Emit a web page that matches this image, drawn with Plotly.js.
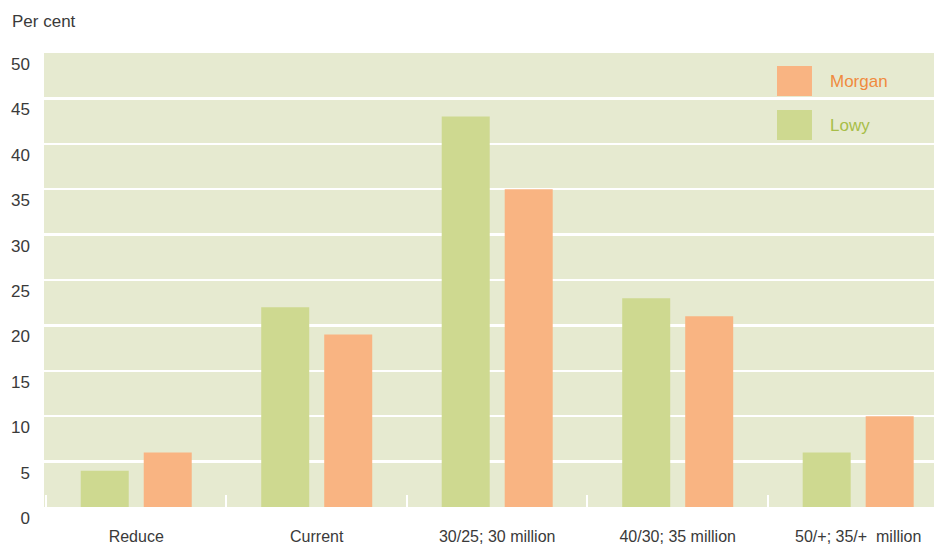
<!DOCTYPE html>
<html>
<head>
<meta charset="utf-8">
<script src="https://cdn.plot.ly/plotly-3.0.1.min.js"></script>
<style>html,body{margin:0;padding:0;background:#fff;}#chart{width:934px;height:547px;}</style>
</head>
<body>
<div id="chart"></div>
<script>
const categories = ["Reduce", "Current", "30/25; 30 million", "40/30; 35 million", "50/+; 35/+  million"];
const lowyValues = [4, 22, 43, 23, 6];
const morganValues = [6, 19, 35, 21, 10];
const yTicks = [0, 5, 10, 15, 20, 25, 30, 35, 40, 45, 50];

const green = "#CED990";
const orange = "#F9B482";
const fontFam = "'Liberation Sans Narrow', 'Arial Narrow', 'Liberation Sans', Arial, sans-serif";
const textColor = "#3a3a3a";

const traces = [
  {type: "bar", name: "Lowy", x: categories, y: lowyValues, marker: {color: green}, hoverinfo: "x+y"},
  {type: "bar", name: "Morgan", x: categories, y: morganValues, marker: {color: orange}, hoverinfo: "x+y"}
];

const layout = {
  width: 934, height: 547,
  margin: {l: 44, r: 0, t: 53, b: 40},
  paper_bgcolor: "#ffffff",
  plot_bgcolor: "#E6EAD0",
  barmode: "group",
  bargap: 0.302,
  bargroupgap: 0.238,
  showlegend: false,
  font: {family: fontFam, size: 16, color: textColor},
  xaxis: {
    type: "category",
    range: [-0.511, 4.42],
    tickson: "boundaries",
    ticks: "inside",
    ticklen: 12,
    tickwidth: 2,
    tickcolor: "#ffffff",
    showgrid: false,
    zeroline: false,
    showline: false,
    ticklabelstandoff: 18,
    tickfont: {family: fontFam, size: 16, color: textColor}
  },
  yaxis: {
    range: [0, 50],
    tickvals: yTicks,
    ticktext: yTicks.map(String),
    showgrid: true,
    gridcolor: "#ffffff",
    gridwidth: 2.5,
    zeroline: false,
    showline: false,
    ticks: "",
    ticklabelstandoff: 13,
    ticklabelshift: 11,
    tickfont: {family: fontFam, size: 17, color: textColor}
  },
  shapes: [
    {type: "rect", xref: "paper", yref: "paper", x0: 0.8236, x1: 0.8629, y0: 0.9053, y1: 0.9714, fillcolor: orange, line: {width: 0}},
    {type: "rect", xref: "paper", yref: "paper", x0: 0.8236, x1: 0.8629, y0: 0.8084, y1: 0.8744, fillcolor: green, line: {width: 0}}
  ],
  annotations: [
    {text: "Per cent", xref: "paper", yref: "paper", x: -0.0382, y: 1.07, xanchor: "left", yanchor: "middle", showarrow: false, font: {family: fontFam, size: 17, color: textColor}},
    {text: "Morgan", xref: "paper", yref: "paper", x: 0.8805, y: 0.9383, xanchor: "left", yanchor: "middle", showarrow: false, font: {family: fontFam, size: 17, color: "#F08A3E"}},
    {text: "Lowy", xref: "paper", yref: "paper", x: 0.8805, y: 0.8414, xanchor: "left", yanchor: "middle", showarrow: false, font: {family: fontFam, size: 17, color: "#A8BE48"}}
  ]
};

Plotly.newPlot("chart", traces, layout, {displayModeBar: false, staticPlot: true});
</script>
</body>
</html>
